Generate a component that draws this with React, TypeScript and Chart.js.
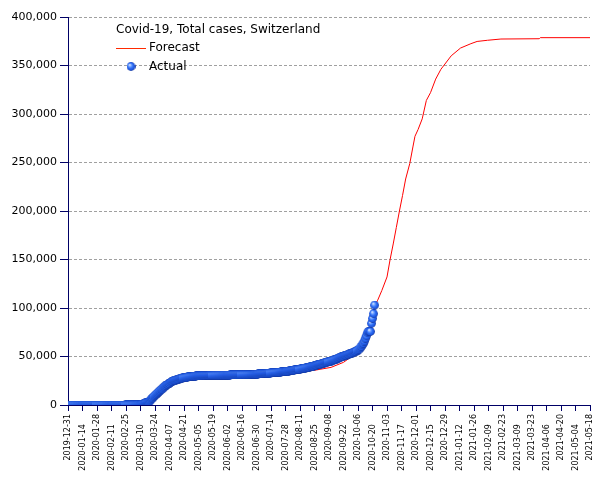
import { useEffect, useRef } from 'react';
import { Chart, registerables } from 'chart.js';

Chart.register(...registerables);

const chartTitle = 'Covid-19, Total cases, Switzerland';
const forecastLabel = 'Forecast';
const actualLabel = 'Actual';
const startDate = '2019-12-31';

const xTickLabels = [
  '2019-12-31', '2020-01-14', '2020-01-28', '2020-02-11', '2020-02-25', '2020-03-10',
  '2020-03-24', '2020-04-07', '2020-04-21', '2020-05-05', '2020-05-19', '2020-06-02',
  '2020-06-16', '2020-06-30', '2020-07-14', '2020-07-28', '2020-08-11', '2020-08-25',
  '2020-09-08', '2020-09-22', '2020-10-06', '2020-10-20', '2020-11-03', '2020-11-17',
  '2020-12-01', '2020-12-15', '2020-12-29', '2021-01-12', '2021-01-26', '2021-02-09',
  '2021-02-23', '2021-03-09', '2021-03-23', '2021-04-06', '2021-04-20', '2021-05-04',
  '2021-05-18',
];

const yMin = 0;
const yMax = 400000;
const yStep = 50000;

// Daily totals starting at 2019-12-31
const actualTotals = [
  // 2019-12-31 .. 2020-02-24
  0, 0, 0, 0, 0, 0, 0, 0, 0, 0, 0, 0, 0, 0, 0, 0, 0, 0, 0, 0, 0, 0, 0, 0, 0, 0, 0, 0,
  0, 0, 0, 0, 0, 0, 0, 0, 0, 0, 0, 0, 0, 0, 0, 0, 0, 0, 0, 0, 0, 0, 0, 0, 0, 0, 0, 0,
  // Feb 25-29
  1, 1, 8, 8, 18,
  // March
  27, 42, 56, 90, 114, 214, 268, 337, 374, 491, 652, 858, 1139, 1359, 2200, 2200, 2700,
  3028, 4075, 5294, 6575, 7474, 8795, 9877, 10897, 11811, 12928, 14076, 14829, 15922, 16605,
  // April
  17768, 18827, 19606, 20505, 21100, 21657, 22253, 23280, 24051, 24551, 25107, 25415,
  25688, 25936, 26336, 26732, 27078, 27404, 27740, 27944, 28063, 28268, 28496, 28677,
  28894, 29061, 29164, 29264, 29407, 29586,
  // May
  29705, 29817, 29905, 29981, 30009, 30060, 30126, 30207, 30251, 30305, 30344, 30380,
  30413, 30463, 30514, 30572, 30587, 30597, 30618, 30658, 30694, 30707, 30725, 30736,
  30746, 30761, 30776, 30796, 30828, 30845, 30862,
  // June
  30871, 30874, 30893, 30913, 30936, 30956, 30965, 30972, 30988, 31011, 31044, 31063,
  31094, 31117, 31131, 31154, 31187, 31200, 31235, 31243, 31292, 31310, 31332, 31376,
  31428, 31486, 31555, 31617, 31652, 31714,
  // July
  31851, 31967, 32101, 32198, 32268, 32315, 32369, 32498, 32586, 32690, 32817, 32883,
  32946, 33016, 33148, 33290, 33382, 33492, 33591, 33634, 33742, 33883, 34000, 34154,
  34302, 34412, 34477, 34609, 34802, 34802, 35000,
  // August
  35232, 35412, 35616, 35746, 35927, 36108, 36269, 36451, 36603, 36708, 36895, 37169,
  37403, 37671, 37924, 38124, 38252, 38449, 38760, 39026, 39332, 39627, 39903, 40060,
  40262, 40645, 41006, 41346, 41722, 42014, 42177,
  // September
  42393, 42763, 43127, 43532, 43924, 44206, 44401, 44592, 44837, 45306, 45711, 46133,
  46465, 46704, 47179, 47794, 48265, 48795, 49283, 49664, 49855, 50378, 50664, 51101,
  51492, 51864, 52181, 52646, 52871, 53282,
  // October 1-22
  53832, 54384, 54789, 55153, 55932, 56632, 57709, 58881, 60368, 62000, 63500, 65881,
  68704, 71317, 74422, 75800, 75800, 75800, 84200, 89300, 94200, 103000,
];

const forecastDates = [
  '2020-02-25', '2020-03-03', '2020-03-10', '2020-03-17', '2020-03-24', '2020-03-31',
  '2020-04-07', '2020-04-14', '2020-04-21', '2020-04-30', '2020-05-15', '2020-06-01',
  '2020-06-15', '2020-07-01', '2020-07-15', '2020-08-01', '2020-08-18', '2020-08-25',
  '2020-09-10', '2020-09-22', '2020-09-27', '2020-10-05', '2020-10-12', '2020-10-15',
  '2020-10-19', '2020-10-22', '2020-10-25', '2020-10-29', '2020-11-03', '2020-11-06',
  '2020-11-09', '2020-11-12', '2020-11-15', '2020-11-18', '2020-11-21', '2020-11-25',
  '2020-11-28', '2020-11-30', '2020-12-03', '2020-12-07', '2020-12-11', '2020-12-15',
  '2020-12-20', '2020-12-25', '2021-01-04', '2021-01-13', '2021-01-23', '2021-01-29',
  '2021-02-08', '2021-02-21', '2021-03-30', '2021-03-31', '2021-05-18',
];

const forecastTotals = [
  0, 60, 490, 2700, 9800, 16500,
  22100, 25800, 27900, 29400, 30400, 30800,
  31000, 31600, 32700, 33900, 35000, 35800,
  38800, 44000, 47800, 54600, 64000, 73000,
  86000, 102000, 108000, 118000, 132000, 150000,
  166000, 183000, 200000, 216000, 233000, 249000,
  266000, 277000, 284000, 295000, 314000, 322000,
  336000, 346000, 360000, 368000, 372500, 374800,
  376000, 377300, 377600, 378700, 378700,
];

const FONT = '"DejaVu Sans", Verdana, sans-serif';
const NAVY = '#000066';
const STAGGER = '    ';

function dayIndex(d: string): number {
  return Math.round((Date.parse(d) - Date.parse(startDate)) / 86400000);
}

function makeSphere(): HTMLCanvasElement {
  const c = document.createElement('canvas');
  c.width = 9;
  c.height = 9;
  const g = c.getContext('2d')!;
  const grad = g.createRadialGradient(3.0, 2.8, 0.2, 4.5, 4.5, 4.6);
  grad.addColorStop(0, '#e6efff');
  grad.addColorStop(0.3, '#6e9fff');
  grad.addColorStop(0.55, '#2e6ef4');
  grad.addColorStop(0.82, '#1e54dc');
  grad.addColorStop(1, '#0c2a88');
  g.fillStyle = grad;
  g.beginPath();
  g.arc(4.5, 4.5, 4.4, 0, Math.PI * 2);
  g.fill();
  return c;
}

export default function App() {
  const ref = useRef<HTMLCanvasElement | null>(null);

  useEffect(() => {
    if (!ref.current) return;
    const sphere = makeSphere();
    const tickMap = new Map<number, string>();
    xTickLabels.forEach((l, i) => tickMap.set(dayIndex(l), i % 2 === 1 ? l + STAGGER : l));
    const xMax = dayIndex(xTickLabels[xTickLabels.length - 1]);

    const actualData = actualTotals.map((v, i) => ({ x: i, y: v }));
    const forecastData = forecastDates.map((d, i) => ({ x: dayIndex(d), y: forecastTotals[i] }));

    const legendPlugin = {
      id: 'customLegend',
      afterDatasetsDraw(chart: any) {
        const ctx = chart.ctx as CanvasRenderingContext2D;
        ctx.save();
        ctx.font = `12px ${FONT}`;
        ctx.fillStyle = '#000';
        ctx.textBaseline = 'middle';
        ctx.textAlign = 'left';
        ctx.fillText(chartTitle, 116, 30);
        ctx.strokeStyle = '#ff2a00';
        ctx.lineWidth = 1;
        ctx.beginPath();
        ctx.moveTo(116, 48.5);
        ctx.lineTo(146, 48.5);
        ctx.stroke();
        ctx.fillText(forecastLabel, 149, 48);
        ctx.drawImage(sphere, 131 - 4.5, 66.5 - 4.5);
        ctx.fillText(actualLabel, 149, 67);
        ctx.restore();
      },
    };

    const chart = new Chart(ref.current, {
      type: 'line',
      data: {
        datasets: [
          {
            label: actualLabel,
            data: actualData,
            showLine: false,
            pointStyle: sphere as any,
            pointRadius: 4.5,
            pointHoverRadius: 4.5,
            order: 0,
          },
          {
            label: forecastLabel,
            data: forecastData,
            borderColor: '#ff0000',
            borderWidth: 1,
            pointRadius: 0,
            tension: 0,
            fill: false,
            order: 1,
          },
        ],
      },
      options: {
        animation: false,
        responsive: false,
        maintainAspectRatio: false,
        events: [],
        layout: { padding: { left: 0, top: 17, right: 15, bottom: 0 } },
        plugins: {
          legend: { display: false },
          tooltip: { enabled: false },
          title: { display: false },
        },
        scales: {
          x: {
            type: 'linear',
            min: 0,
            max: xMax,
            grid: {
              drawOnChartArea: false,
              drawTicks: true,
              tickLength: 6,
              tickColor: NAVY,
              color: NAVY,
            },
            border: { color: NAVY, width: 1 },
            ticks: {
              stepSize: 14,
              autoSkip: false,
              maxRotation: 90,
              minRotation: 90,
              padding: 3,
              color: '#000',
              font: { family: FONT, size: 8 },
              callback: (v: any) => tickMap.get(Math.round(Number(v))) ?? '',
            },
            afterFit: (s: any) => {
              s.height = 75;
            },
          },
          y: {
            type: 'linear',
            min: yMin,
            max: yMax,
            grid: {
              color: '#a0a0a0',
              tickColor: NAVY,
              tickLength: 8,
              tickBorderDash: [],
            },
            border: { color: NAVY, width: 1, dash: [3, 2] },
            ticks: {
              stepSize: yStep,
              padding: 3,
              color: '#000',
              font: { family: FONT, size: 11 },
              callback: (v: any) => Number(v).toLocaleString('en-US'),
            },
            afterFit: (s: any) => {
              s.width = 68;
            },
          },
        },
      },
      plugins: [legendPlugin],
    });
    return () => chart.destroy();
  }, []);

  return (
    <div style={{ position: 'absolute', left: 0, top: 0, width: 605, height: 480, background: '#fff' }}>
      <canvas ref={ref} width={605} height={480} />
    </div>
  );
}
